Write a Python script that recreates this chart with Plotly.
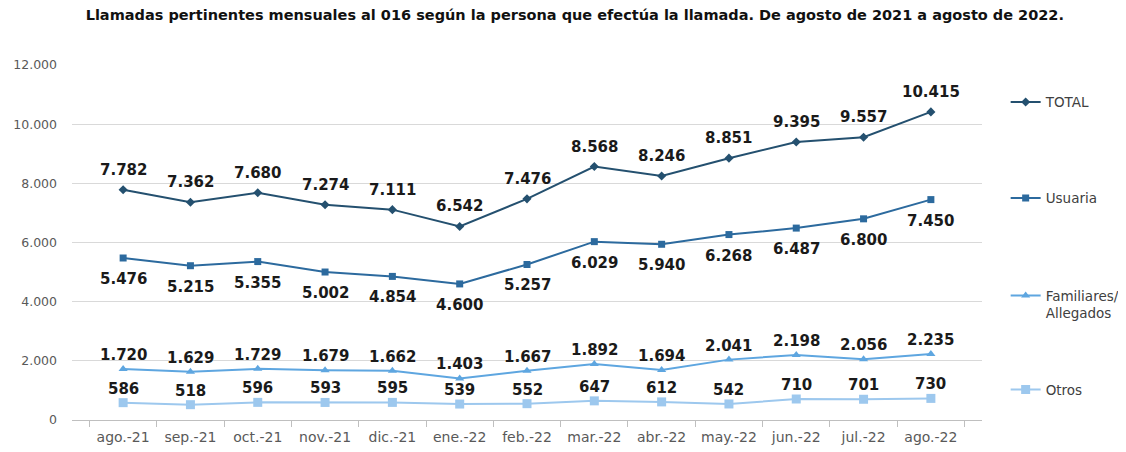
import plotly.graph_objects as go

months = ["ago.-21", "sep.-21", "oct.-21", "nov.-21", "dic.-21", "ene.-22", "feb.-22",
          "mar.-22", "abr.-22", "may.-22", "jun.-22", "jul.-22", "ago.-22"]
total = [7782, 7362, 7680, 7274, 7111, 6542, 7476, 8568, 8246, 8851, 9395, 9557, 10415]
usuaria = [5476, 5215, 5355, 5002, 4854, 4600, 5257, 6029, 5940, 6268, 6487, 6800, 7450]
familiares = [1720, 1629, 1729, 1679, 1662, 1403, 1667, 1892, 1694, 2041, 2198, 2056, 2235]
otros = [586, 518, 596, 593, 595, 539, 552, 647, 612, 542, 710, 701, 730]

# name, values, color, symbol, marker size, label shift, legend id, legend y (paper)
series = [
    ("TOTAL", total, "#24506F", "diamond", 7, 20, "legend", 0.895),
    ("Usuaria", usuaria, "#2C6A9E", "square", 7, -21, "legend2", 0.625),
    ("Familiares/<br>Allegados", familiares, "#5EA6E0", "triangle-up", 8, 14, "legend3", 0.325),
    ("Otros", otros, "#9DC8EE", "square", 9, 14, "legend4", 0.085),
]

fig = go.Figure()
annotations = []
legends = {}
for name, vals, color, sym, msize, shift, leg, ly in series:
    fig.add_trace(go.Scatter(
        x=months, y=vals, name=name, mode="lines+markers",
        line=dict(color=color, width=2),
        marker=dict(symbol=sym, size=msize, color=color),
        legend=leg,
    ))
    legends[leg] = dict(
        x=1.026, xanchor="left", y=ly, yanchor="middle",
        font=dict(family="DejaVu Sans", size=13.5, color="#404040"),
        valign="top", itemwidth=30, bgcolor="rgba(0,0,0,0)",
    )
    for m, v in zip(months, vals):
        annotations.append(dict(
            x=m, y=v, xref="x", yref="y", text=f"{v:,}".replace(",", "."),
            showarrow=False, yshift=shift,
            font=dict(family="DejaVu Sans", size=15, color="#1a1a1a", weight="bold"),
        ))

fig.update_layout(
    width=1118, height=444,
    paper_bgcolor="white", plot_bgcolor="white",
    margin=dict(l=64, r=144, t=57, b=32, autoexpand=False),
    separators=",.",
    title=dict(
        text="<b>Llamadas pertinentes mensuales al 016 según la persona que efectúa la llamada. De agosto de 2021 a agosto de 2022.</b>",
        x=0.507, xanchor="center", y=0.985, yanchor="middle",
        font=dict(family="DejaVu Sans", size=14.5, color="#111111"),
    ),
    annotations=annotations,
    showlegend=True,
    **legends,
)
fig.update_xaxes(
    type="category", showgrid=False, showline=True, linecolor="#BFBFBF", linewidth=1,
    ticks="outside", tickson="boundaries", ticklen=6, tickcolor="#BFBFBF",
    tickangle=0, automargin=False, ticklabelstandoff=4,
    tickfont=dict(family="DejaVu Sans", size=14, color="#595959"),
)
fig.update_yaxes(
    range=[0, 12000], dtick=2000, tickformat=",d", showgrid=True,
    gridcolor="#D9D9D9", gridwidth=1, zeroline=False, showline=False,
    automargin=False,
    tickfont=dict(family="DejaVu Sans", size=12.5, color="#595959"),
    ticks="", ticklabelstandoff=14,
)

fig.write_html("out.html")
